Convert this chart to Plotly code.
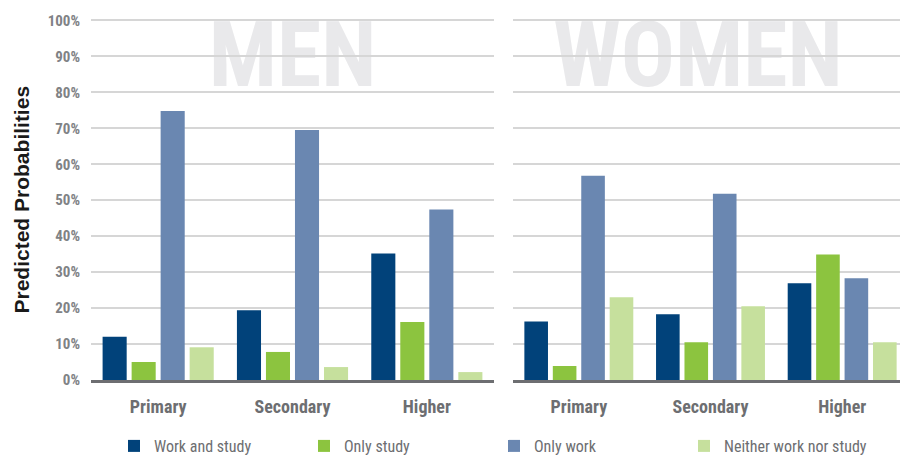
import plotly.graph_objects as go

# education levels on the x axis
levels = ["Primary", "Secondary", "Higher"]

# predicted probabilities (%)
men_work_study = [12.0, 19.4, 35.2]
men_only_study = [5.0, 7.8, 16.1]
men_only_work = [74.8, 69.5, 47.4]
men_neither = [9.1, 3.6, 2.2]

women_work_study = [16.3, 18.3, 26.9]
women_only_study = [3.9, 10.5, 34.9]
women_only_work = [56.8, 51.8, 28.3]
women_neither = [23.0, 20.5, 10.5]

series_names = ["Work and study", "Only study", "Only work", "Neither work nor study"]
series_colors = ["#01427a", "#8cc43f", "#6a87b1", "#c6e09d"]

y_ticks = [0, 10, 20, 30, 40, 50, 60, 70, 80, 90, 100]
y_ticktext = [f"{v}%" for v in y_ticks]

cond_font = "Roboto Condensed, Liberation Sans Narrow, DejaVu Sans Condensed, Roboto, sans-serif"

# the page body has an 8px margin, so the figure is made smaller and
# every position below is given in window pixels and shifted by it
OFF = 8
W, H = 908 - OFF, 457 - OFF


def px_x(x):
    return (x - OFF) / W


def px_y(y):
    return 1 - (y - OFF) / H


fig = go.Figure()

men = [men_work_study, men_only_study, men_only_work, men_neither]
women = [women_work_study, women_only_study, women_only_work, women_neither]

for name, color, m_vals, w_vals in zip(series_names, series_colors, men, women):
    fig.add_trace(go.Bar(x=levels, y=m_vals, name=name, marker_color=color,
                         xaxis="x", yaxis="y", legendgroup=name))
    fig.add_trace(go.Bar(x=levels, y=w_vals, name=name, marker_color=color,
                         xaxis="x2", yaxis="y2", legendgroup=name, showlegend=False))

y_dom = [px_y(380), px_y(19)]

xaxis_common = dict(
    showgrid=False,
    showline=True,
    linecolor="#6d6e71",
    linewidth=3,
    ticks="outside",
    ticklen=8,
    tickcolor="rgba(0,0,0,0)",
    tickfont=dict(family=cond_font, size=18, color="#6d6e71", weight="bold"),
    automargin=False,
    fixedrange=True,
)
yaxis_common = dict(
    range=[0, 100.4],
    tickvals=y_ticks,
    showgrid=True,
    gridcolor="#d6d6d6",
    gridwidth=1.5,
    zeroline=False,
    automargin=False,
    fixedrange=True,
)

fig.update_layout(
    template="none",
    width=W,
    height=H,
    margin=dict(l=0, r=0, t=0, b=0, autoexpand=False),
    plot_bgcolor="white",
    paper_bgcolor="white",
    barmode="group",
    bargap=0.136,
    bargroupgap=0.17,
    xaxis=dict(domain=[px_x(91), px_x(494)], **xaxis_common),
    xaxis2=dict(domain=[px_x(513), 1.0], anchor="y2", **xaxis_common),
    yaxis=dict(domain=y_dom, ticktext=y_ticktext, ticklabelstandoff=10,
               tickfont=dict(family=cond_font, size=15, color="#808285", weight="bold"),
               **yaxis_common),
    yaxis2=dict(domain=y_dom, anchor="x2", showticklabels=False, **yaxis_common),
    legend=dict(
        orientation="h",
        x=px_x(114),
        y=px_y(446),
        xanchor="left",
        yanchor="middle",
        entrywidth=145,
        entrywidthmode="pixels",
        font=dict(family=cond_font, size=16, color="#6d6e71"),
        traceorder="normal",
        bgcolor="rgba(0,0,0,0)",
    ),
    showlegend=True,
)

# big watermark labels behind the gridlines
watermarks = [("x domain", "y domain", "MEN", 0.0, 1.0),
              ("x2 domain", "y2 domain", "WOMEN", -0.064, 1.0)]
for xref, yref, text, x0, x1 in watermarks:
    fig.add_shape(
        type="rect",
        xref=xref,
        yref=yref,
        x0=x0, x1=x1, y0=0.839, y1=1.0,
        line_width=0,
        fillcolor="rgba(0,0,0,0)",
        layer="below",
        label=dict(text=text, textposition="middle center",
                   font=dict(family=cond_font, size=90, color="#e9e9eb", weight="bold")),
    )

fig.add_annotation(
    text="Predicted Probabilities",
    xref="paper", yref="paper",
    x=px_x(21), y=(y_dom[0] + y_dom[1]) / 2,
    xanchor="center", yanchor="middle",
    textangle=-90,
    showarrow=False,
    font=dict(family="Liberation Sans, Arial, sans-serif", size=21, color="#1a1a1a", weight="bold"),
)

fig.write_html("out.html")
